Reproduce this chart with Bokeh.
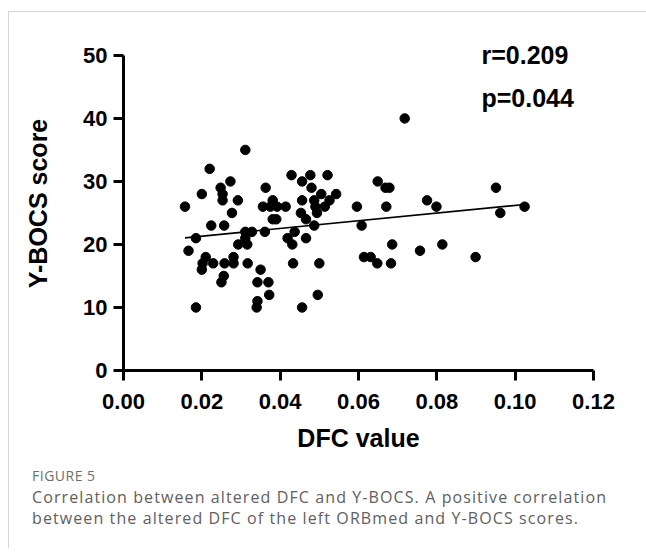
from bokeh.plotting import figure
from bokeh.models import Label, Div, FixedTicker, Range1d
from bokeh.layouts import column
from bokeh.embed import file_html
from bokeh.resources import INLINE

# ---- data ----
dfc = [0.0157, 0.0166, 0.0185, 0.0185, 0.0200, 0.0200, 0.0202, 0.0210, 0.0220, 0.0224,
       0.0229, 0.0248, 0.0253, 0.0253, 0.0257, 0.0258, 0.0256, 0.0250, 0.0273, 0.0277,
       0.0281, 0.0281, 0.0292, 0.0293, 0.0311, 0.0311, 0.0311, 0.0316, 0.0317, 0.0328,
       0.0350, 0.0342, 0.0342, 0.0340, 0.0361, 0.0363, 0.0356, 0.0370, 0.0372, 0.0381,
       0.0375, 0.0381, 0.0390, 0.0392, 0.0414, 0.0419, 0.0429, 0.0431, 0.0433, 0.0437,
       0.0456, 0.0456, 0.0453, 0.0456, 0.0466, 0.0466, 0.0477, 0.0480, 0.0487, 0.0487,
       0.0490, 0.0494, 0.0496, 0.0500, 0.0505, 0.0514, 0.0521, 0.0526, 0.0543, 0.0596,
       0.0608, 0.0614, 0.0631, 0.0648, 0.0649, 0.0669, 0.0679, 0.0671, 0.0683, 0.0686,
       0.0718, 0.0757, 0.0775, 0.0799, 0.0814, 0.0899, 0.0951, 0.0962, 0.1024]
ybocs = [26, 19, 21, 10, 28, 16, 17, 18, 32, 23,
         17, 29, 28, 27, 23, 17, 15, 14, 30, 25,
         18, 17, 27, 20, 35, 22, 21, 20, 17, 22,
         16, 14, 11, 10, 22, 29, 26, 14, 12, 27,
         26, 24, 24, 26, 26, 21, 31, 20, 17, 22,
         30, 27, 25, 10, 24, 21, 31, 29, 27, 23,
         26, 25, 12, 17, 28, 26, 31, 27, 28, 26,
         23, 18, 18, 17, 30, 29, 29, 26, 17, 20,
         40, 19, 27, 26, 20, 18, 29, 25, 26]

fit_x = [0.0157, 0.1024]
fit_y = [21.05, 26.35]

x_ticks = [0.0, 0.02, 0.04, 0.06, 0.08, 0.10, 0.12]
x_tick_labels = ["0.00", "0.02", "0.04", "0.06", "0.08", "0.10", "0.12"]
y_ticks = [0, 10, 20, 30, 40, 50]
y_tick_labels = ["0", "10", "20", "30", "40", "50"]

stat_texts = ["r=0.209", "p=0.044"]
x_title = "DFC value"
y_title = "Y-BOCS score"
fig_no = "FIGURE 5"
caption_lines = ["Correlation between altered DFC and Y-BOCS. A positive correlation",
                 "between the altered DFC of the left ORBmed and Y-BOCS scores."]

FONT = "Liberation Sans"

p = figure(width=629, height=450, x_range=Range1d(0, 0.12), y_range=Range1d(0, 53),
           output_backend="svg", toolbar_location=None,
           min_border_left=114, min_border_right=45, min_border_top=24, min_border_bottom=92)
p.grid.visible = False
p.outline_line_color = None

for ax in (p.xaxis[0], p.yaxis[0]):
    ax.axis_line_width = 3
    ax.axis_line_color = "black"
    ax.major_tick_line_width = 3
    ax.major_tick_line_color = "black"
    ax.major_tick_in = 0
    ax.major_tick_out = 10
    ax.minor_tick_line_color = None
    ax.major_label_text_font = FONT
    ax.major_label_text_font_style = "bold"
    ax.major_label_text_font_size = "22px"
    ax.major_label_text_color = "black"
    ax.axis_label_text_font = FONT
    ax.axis_label_text_font_style = "bold"
    ax.axis_label_text_font_size = "25px"
    ax.axis_label_text_color = "black"

p.xaxis.ticker = FixedTicker(ticks=x_ticks)
p.xaxis.major_label_overrides = dict(zip(x_ticks, x_tick_labels))
p.yaxis.ticker = FixedTicker(ticks=y_ticks)
p.yaxis.major_label_overrides = dict(zip(y_ticks, y_tick_labels))
p.yaxis.bounds = (y_ticks[0], y_ticks[-1])
p.xaxis.axis_label = x_title
p.yaxis.axis_label = y_title
p.xaxis.major_label_standoff = 13
p.xaxis.axis_label_standoff = 12
p.yaxis.major_label_standoff = 6
p.yaxis.axis_label_standoff = 28

p.line(fit_x, fit_y, line_color="black", line_width=1.6)
p.scatter(dfc, ybocs, size=9.5, fill_color="black", line_color="black")

p.add_layout(Label(x=0.0914, y=50, text=stat_texts[0], text_font=FONT, text_font_style="bold",
                   text_font_size="25px", text_baseline="middle", text_color="black"))
p.add_layout(Label(x=0.0914, y=43.2, text=stat_texts[1], text_font=FONT, text_font_style="bold",
                   text_font_size="25px", text_baseline="middle", text_color="black"))

cap = Div(text=(
    '<div style="padding:0 0 0 18px; font-family:\'Open Sans\'; color:#6e6e6e; white-space:nowrap;">'
    '<div style="font-size:14px; line-height:18px; letter-spacing:0.5px;">' + fig_no + '</div>'
    '<div style="font-size:16px; line-height:21px; margin-top:2px; letter-spacing:1.1px; color:#606060;">'
    + caption_lines[0] + '<br>' + caption_lines[1] + '</div>'
    '</div>'), width=629, height=76)

layout = column(p, cap, styles={"border-top": "1px solid #d6d6d6",
                                "border-left": "1px solid #d6d6d6",
                                "margin-top": "11px",
                                "margin-left": "8px"})

open("out.html", "w").write(file_html(layout, INLINE))
